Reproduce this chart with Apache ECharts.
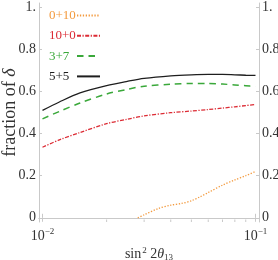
<!DOCTYPE html>
<html>
<head>
<meta charset="utf-8">
<script src="https://cdn.jsdelivr.net/npm/echarts@6/dist/echarts.min.js"></script>
<style>
html,body{margin:0;padding:0;background:#fff;}
#chart{width:278px;height:260px;}
</style>
</head>
<body>
<div id="chart"></div>
<script>
// ---- data ----
const xMain = [0.01, 0.012, 0.015, 0.02, 0.025, 0.03, 0.04, 0.05, 0.06, 0.07, 0.08, 0.09, 0.1];
const y55 = [0.51, 0.55, 0.593, 0.628, 0.648, 0.662, 0.674, 0.679, 0.681, 0.681, 0.679, 0.677, 0.676];
const y37 = [0.47, 0.505, 0.545, 0.588, 0.61, 0.625, 0.634, 0.638, 0.638, 0.635, 0.631, 0.627, 0.623];
const y100 = [0.335, 0.37, 0.405, 0.447, 0.468, 0.484, 0.499, 0.507, 0.514, 0.521, 0.527, 0.533, 0.538];
const xOrange = [0.028, 0.03, 0.035, 0.04, 0.045, 0.05, 0.055, 0.06, 0.07, 0.08, 0.09, 0.1];
const y010 = [0.0, 0.014, 0.044, 0.06, 0.068, 0.081, 0.1, 0.12, 0.155, 0.18, 0.2, 0.22];
const seriesNames = ['0+10', '10+0', '3+7', '5+5'];
const yTickValues = [0, 0.2, 0.4, 0.6, 0.8, 1];
const yTickLabels = ['0', '0.2', '0.4', '0.6', '0.8', '1.'];
const xMinorTicks = [0.02, 0.03, 0.04, 0.05, 0.06, 0.07, 0.08, 0.09];

// ---- styling ----
const C_OR = '#f39a3e', C_RD = '#dc2b34', C_GR = '#3aa83a', C_BK = '#1e1e1e';
const FRAME = '#c9c9c9', TXT = '#333333', FONT = 'Liberation Serif';
const Y_MIN = -0.02, Y_MAX = 1.02;
const PAD_DEC = 3.5 / 213;
const X_MIN = Math.pow(10, -2 - PAD_DEC), X_MAX = Math.pow(10, -1 + PAD_DEC);

const pairs = (xs, ys) => xs.map((x, i) => [x, ys[i]]);
const chart = echarts.init(document.getElementById('chart'), null, {renderer: 'canvas'});

const xLabel = v => {
  const e = Math.log10(v);
  if (Math.abs(e - Math.round(e)) > 1e-6) return '';
  const r = Math.round(e);
  return '{b|10}{s|' + (r < 0 ? '\u2212' + (-r) : r) + '}';
};

chart.setOption({
  animation: false,
  grid: {left: 39, top: 3, width: 220, height: 219, containLabel: false, outerBoundsMode: 'none'},
  legend: {
    orient: 'vertical', left: 49, top: 9, align: 'right', padding: 0,
    itemWidth: 23, itemHeight: 14, itemGap: 7.3,
    itemStyle: {opacity: 0},
    textStyle: {fontFamily: FONT, fontSize: 13, rich: {t: {width: 23, align: 'left', fontFamily: FONT, fontSize: 13}}},
    formatter: n => '{t|' + n + '}',
    data: [
      {name: seriesNames[0], textStyle: {color: C_OR}},
      {name: seriesNames[1], textStyle: {color: C_RD}},
      {name: seriesNames[2], textStyle: {color: C_GR}},
      {name: seriesNames[3], textStyle: {color: C_BK}}
    ]
  },
  xAxis: [
    {
      type: 'log', logBase: 10, min: X_MIN, max: X_MAX, position: 'bottom',
      axisLine: {show: true, lineStyle: {color: FRAME, width: 1}},
      axisTick: {show: true, inside: true, length: 4, lineStyle: {color: FRAME}},
      splitLine: {show: false}, minorTick: {show: false},
      axisLabel: {
        show: true, margin: 5, formatter: xLabel, color: TXT,
        rich: {
          b: {fontFamily: FONT, fontSize: 14, color: TXT, lineHeight: 16, verticalAlign: 'bottom'},
          s: {fontFamily: FONT, fontSize: 9, color: TXT, lineHeight: 16, verticalAlign: 'top', padding: [0, 0, 6, 0]}
        }
      },
      name: '{a|sin}{p|2}{a| 2}{i|\u03b8}{q|13}',
      nameLocation: 'middle', nameGap: 24, nameMoveOverlap: false,
      nameTextStyle: {
        rich: {
          a: {fontFamily: FONT, fontSize: 14, color: TXT, lineHeight: 16},
          p: {fontFamily: FONT, fontSize: 9, color: TXT, lineHeight: 16, verticalAlign: 'top', padding: [0, 0, 6, 1]},
          i: {fontFamily: FONT, fontSize: 14, fontStyle: 'italic', color: TXT, lineHeight: 16},
          q: {fontFamily: FONT, fontSize: 9, color: TXT, lineHeight: 16, verticalAlign: 'bottom', padding: [6, 0, 0, 0]}
        }
      }
    },
    {
      type: 'log', logBase: 10, min: X_MIN, max: X_MAX, position: 'top',
      axisLine: {show: true, lineStyle: {color: FRAME, width: 1}},
      axisTick: {show: true, inside: true, length: 4, lineStyle: {color: FRAME}},
      axisLabel: {show: false}, splitLine: {show: false}
    }
  ],
  yAxis: [
    {
      type: 'value', min: Y_MIN, max: Y_MAX, position: 'left',
      axisLine: {show: true, lineStyle: {color: FRAME, width: 1}},
      axisTick: {show: true, inside: true, length: 3, lineStyle: {color: FRAME}, customValues: yTickValues},
      axisLabel: {
        show: true, margin: 3, color: TXT, fontFamily: FONT, fontSize: 14,
        customValues: yTickValues,
        formatter: v => yTickLabels[yTickValues.findIndex(t => Math.abs(t - v) < 1e-9)]
      },
      splitLine: {show: false},
      name: '{a|fraction of }{d|\u03b4}', nameLocation: 'middle', nameGap: 20, nameRotate: 90,
      nameMoveOverlap: false,
      nameTextStyle: {
        rich: {
          a: {fontFamily: FONT, fontSize: 18, color: TXT},
          d: {fontFamily: FONT, fontSize: 18, color: TXT, fontStyle: 'italic'}
        }
      }
    },
    {
      type: 'value', min: Y_MIN, max: Y_MAX, position: 'right',
      axisLine: {show: true, lineStyle: {color: FRAME, width: 1}},
      axisTick: {show: true, inside: true, length: 3, lineStyle: {color: FRAME}, customValues: yTickValues},
      axisLabel: {
        show: true, margin: 3, color: TXT, fontFamily: FONT, fontSize: 14,
        customValues: yTickValues,
        formatter: v => yTickLabels[yTickValues.findIndex(t => Math.abs(t - v) < 1e-9)]
      },
      splitLine: {show: false}
    }
  ],
  series: [
    {
      name: seriesNames[0], type: 'line', data: pairs(xOrange, y010), symbol: 'none', smooth: 0.3,
      lineStyle: {color: C_OR, width: 1.3, type: [1.3, 1.6]}, itemStyle: {color: C_OR}
    },
    {
      name: seriesNames[1], type: 'line', data: pairs(xMain, y100), symbol: 'none', smooth: 0.3,
      lineStyle: {color: C_RD, width: 1.3, type: [4, 1.5, 1.2, 1.5]}, itemStyle: {color: C_RD}
    },
    {
      name: seriesNames[2], type: 'line', data: pairs(xMain, y37), symbol: 'none', smooth: 0.3,
      lineStyle: {color: C_GR, width: 1.5, type: [6.5, 5]}, itemStyle: {color: C_GR}
    },
    {
      name: seriesNames[3], type: 'line', data: pairs(xMain, y55), symbol: 'none', smooth: 0.3,
      lineStyle: {color: C_BK, width: 1.3, type: 'solid'}, itemStyle: {color: C_BK}
    },
    {
      type: 'custom', silent: true, clip: false, legendHoverLink: false,
      data: xMinorTicks.map(x => [x, Y_MIN]),
      encode: {x: 0, y: 1},
      renderItem: (params, api) => {
        const p = api.coord([api.value(0), api.value(1)]);
        return {type: 'line', shape: {x1: p[0], y1: p[1], x2: p[0], y2: p[1] - 2.5},
          style: {stroke: FRAME, lineWidth: 1}};
      }
    }
  ]
});
</script>
</body>
</html>
